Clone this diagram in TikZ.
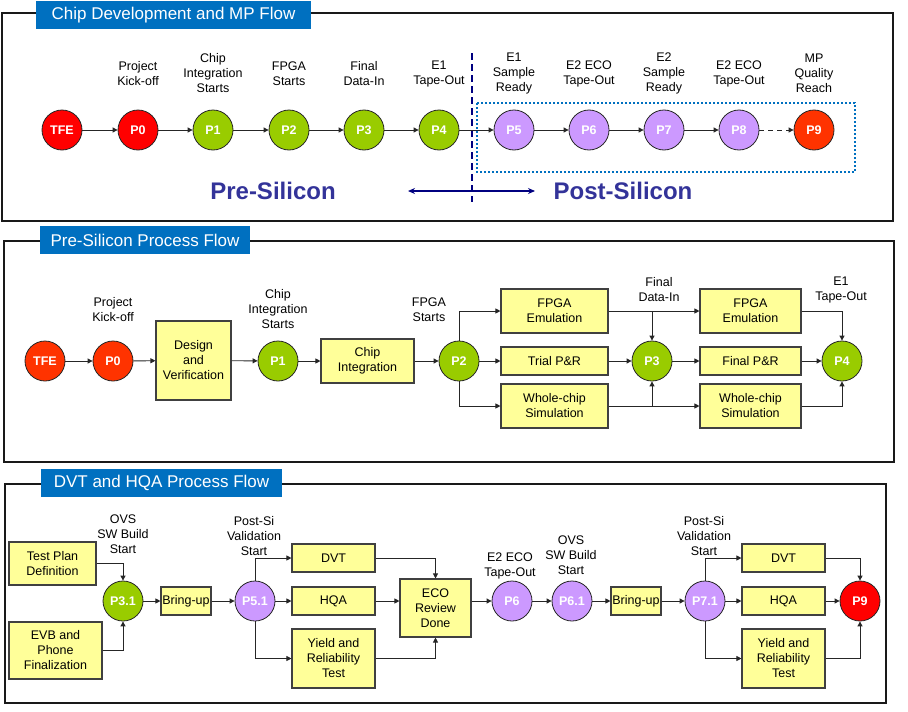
\documentclass[tikz,border=0pt]{standalone}
\usepackage{fontspec}
\setmainfont{Liberation Sans}
\usetikzlibrary{arrows.meta}
\definecolor{tblue}{HTML}{0070C0}
\definecolor{cred}{HTML}{FF0000}
\definecolor{corange}{HTML}{FF3300}
\definecolor{cgreen}{HTML}{99CC00}
\definecolor{cpurple}{HTML}{CC99FF}
\definecolor{boxy}{HTML}{FFFF99}
\definecolor{navytxt}{HTML}{333399}
\definecolor{navyln}{HTML}{000080}
\begin{document}
\begin{tikzpicture}[x=1pt,y=-1pt,
 circ/.style={circle,draw=black!85,line width=0.8pt,minimum size=40pt,inner sep=0pt,text=white,font=\fontsize{12.5}{15}\selectfont\bfseries},
 box/.style={draw=black!75,line width=1.1pt,fill=boxy,inner sep=1pt,align=center,font=\fontsize{12.5}{15}\selectfont},
 lbl/.style={align=center,font=\fontsize{12.5}{15}\selectfont,inner sep=0pt},
 arr/.style={-{Triangle[length=5pt,width=5pt]},line width=0.9pt,draw=black!85},
 frame/.style={draw=black!90,line width=1.6pt},
 ttl/.style={fill=tblue,text=white,font=\fontsize{17}{20}\selectfont,inner sep=0pt,minimum height=28pt},
 big/.style={text=navytxt,font=\fontsize{24}{28}\selectfont\bfseries,inner sep=0pt}]
\useasboundingbox (0,0) rectangle (908,712);

% ---------------- Panel 1 ----------------
\draw[frame] (2,13) rectangle (893,221);
\node[ttl,minimum width=275pt] (t1) at (173.5,15) {Chip Development and MP Flow};

\node[circ,fill=cred] (a0) at (62,130) {TFE};
\node[circ,fill=cred] (a1) at (138,130) {P0};
\node[circ,fill=cgreen] (a2) at (213,130) {P1};
\node[circ,fill=cgreen] (a3) at (289,130) {P2};
\node[circ,fill=cgreen] (a4) at (364,130) {P3};
\node[circ,fill=cgreen] (a5) at (439,130) {P4};
\node[circ,fill=cpurple] (a6) at (514,130) {P5};
\node[circ,fill=cpurple] (a7) at (589,130) {P6};
\node[circ,fill=cpurple] (a8) at (664,130) {P7};
\node[circ,fill=cpurple] (a9) at (739,130) {P8};
\node[circ,fill=corange] (a10) at (814,130) {P9};

\node[lbl] (la1) at (138,74) {Project\\Kick-off};
\node[lbl] (la2) at (213,73) {Chip\\Integration\\Starts};
\node[lbl] (la3) at (289,74) {FPGA\\Starts};
\node[lbl] (la4) at (364,74) {Final\\Data-In};
\node[lbl] (la5) at (439,74) {E1\\Tape-Out};
\node[lbl] (la6) at (514,73) {E1\\Sample\\Ready};
\node[lbl] (la7) at (589,74) {E2 ECO\\Tape-Out};
\node[lbl] (la8) at (664,73) {E2\\Sample\\Ready};
\node[lbl] (la9) at (739,74) {E2 ECO\\Tape-Out};
\node[lbl] (la10) at (814,73) {MP\\Quality\\Reach};

\draw[tblue,line width=2pt,dash pattern=on 2pt off 2pt] (477,103) rectangle (855,172);
\coordinate (dtop) at (472,53);
\coordinate (dbot) at (472,202);
\draw[navyln,line width=2pt,dash pattern=on 7pt off 4pt] (dtop) -- (dbot);

\draw[arr] (a0) -- (a1);
\draw[arr] (a1) -- (a2);
\draw[arr] (a2) -- (a3);
\draw[arr] (a3) -- (a4);
\draw[arr] (a4) -- (a5);
\draw[arr] (a5) -- (a6);
\draw[arr] (a6) -- (a7);
\draw[arr] (a7) -- (a8);
\draw[arr] (a8) -- (a9);
\draw[arr,dash pattern=on 5pt off 4pt] (a9) -- (a10);

\node[big] (pre) at (273,191) {Pre-Silicon};
\node[big] (post) at (623,191) {Post-Silicon};
\coordinate (dl) at (408,191);
\coordinate (dr) at (535,191);
\draw[{Stealth[length=7pt,width=6pt]}-{Stealth[length=7pt,width=6pt]},navyln,line width=1.5pt] (dl) -- (dr);

% ---------------- Panel 2 ----------------
\draw[frame] (4,241) rectangle (894,462);
\node[ttl,minimum width=210pt] (t2) at (145,240) {Pre-Silicon Process Flow};

\node[circ,fill=corange] (b0) at (45,361) {TFE};
\node[circ,fill=corange] (b1) at (113,361) {P0};
\node[box,minimum width=75pt,minimum height=79pt] (dv) at (193.5,360.5) {Design\\and\\Verification};
\node[circ,fill=cgreen] (b2) at (278,361) {P1};
\node[box,minimum width=93pt,minimum height=44pt] (ci) at (367.5,361) {Chip\\Integration};
\node[circ,fill=cgreen] (b3) at (459,361) {P2};
\node[box,minimum width=107pt,minimum height=44pt] (fe1) at (554.5,311) {FPGA\\Emulation};
\node[box,minimum width=107pt,minimum height=28pt] (tr) at (554.5,361) {Trial P\&R};
\node[box,minimum width=107pt,minimum height=44pt] (ws1) at (554.5,406) {Whole-chip\\Simulation};
\node[circ,fill=cgreen] (b4) at (652,361) {P3};
\node[box,minimum width=101pt,minimum height=44pt] (fe2) at (750.5,311) {FPGA\\Emulation};
\node[box,minimum width=101pt,minimum height=28pt] (fpr) at (750.5,361) {Final P\&R};
\node[box,minimum width=101pt,minimum height=44pt] (ws2) at (750.5,406) {Whole-chip\\Simulation};
\node[circ,fill=cgreen] (b5) at (842,361) {P4};

\node[lbl] (lb1) at (113,310) {Project\\Kick-off};
\node[lbl] (lb2) at (278,309) {Chip\\Integration\\Starts};
\node[lbl] (lb3) at (429,310) {FPGA\\Starts};
\node[lbl] (lb4) at (659,290) {Final\\Data-In};
\node[lbl] (lb5) at (841,290) {E1\\Tape-Out};

\draw[arr] (b0) -- (b1);
\draw[arr] (b1) -- (dv);
\draw[arr] (dv) -- (b2);
\draw[arr] (b2) -- (ci);
\draw[arr] (ci) -- (b3);
\draw[arr] (b3) -- (tr);
\draw[arr] (tr) -- (b4);
\draw[arr] (b4) -- (fpr);
\draw[arr] (fpr) -- (b5);
\draw[arr] (b3.north) |- (fe1.west);
\draw[arr] (b3.south) |- (ws1.west);
\draw[arr] (fe1.east) -- (fe2.west);
\draw[arr] (fe1.east -| b4) -- (b4.north);
\draw[arr] (ws1.east) -- (ws2.west);
\draw[arr] (ws1.east -| b4) -- (b4.south);
\draw[arr] (fe2.east) -| (b5.north);
\draw[arr] (ws2.east) -| (b5.south);

% ---------------- Panel 3 ----------------
\draw[frame] (5,484) rectangle (886,703);
\node[ttl,minimum width=241pt] (t3) at (161.5,483) {DVT and HQA Process Flow};

\node[box,minimum width=87pt,minimum height=43pt] (tp) at (52.5,563.5) {Test Plan\\Definition};
\node[box,minimum width=93pt,minimum height=57pt] (evb) at (55.5,650.5) {EVB and\\Phone\\Finalization};
\node[circ,fill=cgreen] (c1) at (123,601) {P3.1};
\node[box,minimum width=50pt,minimum height=28pt,inner sep=0pt] (bu1) at (186,601) {Bring-up};
\node[circ,fill=cpurple] (c2) at (255,601) {P5.1};
\node[box,minimum width=83pt,minimum height=28pt] (dvt1) at (333.5,558) {DVT};
\node[box,minimum width=83pt,minimum height=28pt] (hqa1) at (333.5,601) {HQA};
\node[box,minimum width=83pt,minimum height=59pt] (yr1) at (333.5,658.5) {Yield and\\Reliability\\Test};
\node[box,minimum width=71pt,minimum height=58pt] (eco) at (435.5,608) {ECO\\Review\\Done};
\node[circ,fill=cpurple] (c3) at (512,601) {P6};
\node[circ,fill=cpurple] (c4) at (572,601) {P6.1};
\node[box,minimum width=50pt,minimum height=28pt,inner sep=0pt] (bu2) at (636,601) {Bring-up};
\node[circ,fill=cpurple] (c5) at (705,601) {P7.1};
\node[box,minimum width=83pt,minimum height=28pt] (dvt2) at (783.5,558) {DVT};
\node[box,minimum width=83pt,minimum height=28pt] (hqa2) at (783.5,601) {HQA};
\node[box,minimum width=83pt,minimum height=59pt] (yr2) at (783.5,658.5) {Yield and\\Reliability\\Test};
\node[circ,fill=cred] (c6) at (860,601) {P9};

\node[lbl] (lc1) at (123,534) {OVS\\SW Build\\Start};
\node[lbl] (lc2) at (254,536) {Post-Si\\Validation\\Start};
\node[lbl] (lc3) at (510,566) {E2 ECO\\Tape-Out};
\node[lbl] (lc4) at (571,555) {OVS\\SW Build\\Start};
\node[lbl] (lc5) at (704,536) {Post-Si\\Validation\\Start};

\draw[arr] (tp.east) -| (c1.north);
\draw[arr] (evb.east) -| (c1.south);
\draw[arr] (c1) -- (bu1);
\draw[arr] (bu1) -- (c2);
\draw[arr] (c2.north) |- (dvt1.west);
\draw[arr] (c2) -- (hqa1);
\draw[arr] (c2.south) |- (yr1.west);
\draw[arr] (dvt1.east) -| (eco.north);
\draw[arr] (hqa1.east) -- (hqa1.east -| eco.west);
\draw[arr] (yr1.east) -| (eco.south);
\draw[arr] (eco.east |- c3) -- (c3);
\draw[arr] (c3) -- (c4);
\draw[arr] (c4) -- (bu2);
\draw[arr] (bu2) -- (c5);
\draw[arr] (c5.north) |- (dvt2.west);
\draw[arr] (c5) -- (hqa2);
\draw[arr] (c5.south) |- (yr2.west);
\draw[arr] (dvt2.east) -| (c6.north);
\draw[arr] (hqa2) -- (c6);
\draw[arr] (yr2.east) -| (c6.south);
\end{tikzpicture}
\end{document}
